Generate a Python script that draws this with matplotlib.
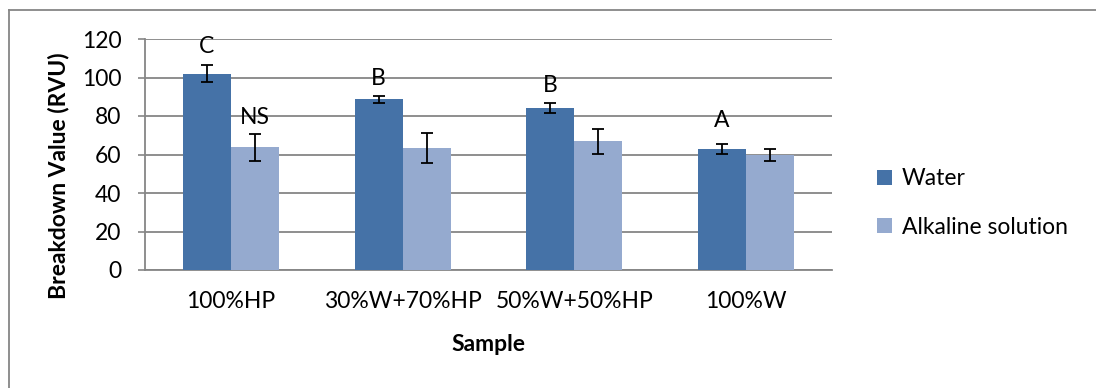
import matplotlib
matplotlib.use("Agg")
import matplotlib.pyplot as plt
import numpy as np
from matplotlib.lines import Line2D

categories = ["100%HP", "30%W+70%HP", "50%W+50%HP", "100%W"]
water = [102.0, 88.7, 84.2, 62.9]
water_err = [4.5, 1.8, 2.7, 2.8]
alkaline = [63.8, 63.4, 67.0, 59.8]
alkaline_err = [7.0, 7.6, 6.5, 3.3]
water_letters = ["C", "B", "B", "A"]
alkaline_letters = ["NS", "", "", ""]
yticks = [0, 20, 40, 60, 80, 100, 120]

plt.rcParams['font.family'] = ['Lato', 'DejaVu Sans']
FS = 16.5
fig = plt.figure(figsize=(10.96, 3.88), dpi=100)
ax = fig.add_axes([145/1096, 1-270/388, (832-145)/1096, (270-39)/388])

x = np.arange(len(categories))
w = 0.28
c_water = "#4572A7"
c_alk = "#95AACF"
ek = dict(ecolor="black", elinewidth=1.3, capsize=4.3, capthick=1.3)
ax.bar(x - w/2, water, w, color=c_water, label="Water", yerr=water_err, error_kw=ek, zorder=3)
ax.bar(x + w/2, alkaline, w, color=c_alk, label="Alkaline solution", yerr=alkaline_err, error_kw=ek, zorder=3)

offsets_w = [6, 5, 5, 9]
for i, (v, e, t) in enumerate(zip(water, water_err, water_letters)):
    if t:
        ax.annotate(t, (x[i] - w/2, v + e), xytext=(0, offsets_w[i]), textcoords="offset points",
                    ha="center", va="bottom", fontsize=FS)
for i, (v, e, t) in enumerate(zip(alkaline, alkaline_err, alkaline_letters)):
    if t:
        ax.annotate(t, (x[i] + w/2, v + e), xytext=(0, 4), textcoords="offset points",
                    ha="center", va="bottom", fontsize=FS)

ax.set_xlim(-0.5, 3.5)
ax.set_ylim(0, 120)
ax.set_yticks(yticks)
ax.set_xticks(x)
ax.set_xticklabels(categories, fontsize=FS)
ax.tick_params(axis="y", labelsize=FS, color="#868686", length=5, width=1.2, pad=12)
ax.tick_params(axis="x", length=0, pad=15)
ax.grid(axis="y", color="#868686", linewidth=1.3, zorder=0)
ax.set_axisbelow(True)
for s in ["top", "right"]:
    ax.spines[s].set_visible(False)
for s in ["left", "bottom"]:
    ax.spines[s].set_color("#868686")
    ax.spines[s].set_linewidth(1.3)

ax.set_ylabel("Breakdown Value (RVU)", fontsize=FS, fontweight="bold")
ax.yaxis.set_label_coords(-0.11, 0.41)
ax.set_xlabel("Sample", fontsize=FS, fontweight="bold", labelpad=16)

ax.legend(loc="center left", bbox_to_anchor=(1.035, 0.29), frameon=False, fontsize=FS,
          handlelength=0.65, handleheight=0.65, labelspacing=1.2, handletextpad=0.45)

fig.add_artist(Line2D([9/1096, 9/1096], [0, 1-10/388], color="#868686", linewidth=1.3, transform=fig.transFigure))
fig.add_artist(Line2D([9/1096, 1], [1-10/388, 1-10/388], color="#868686", linewidth=1.3, transform=fig.transFigure))

fig.savefig("out.png", dpi=100)
